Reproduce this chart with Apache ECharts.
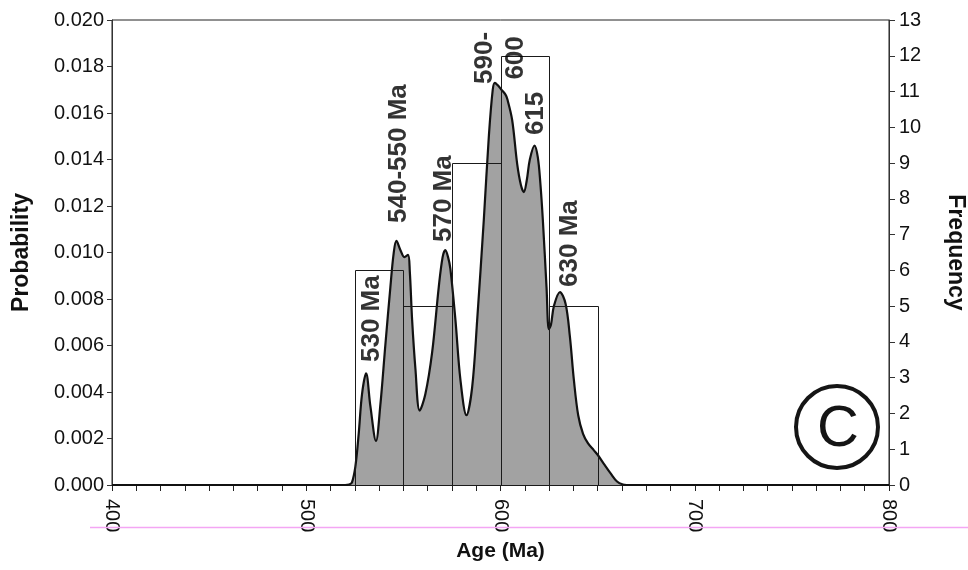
<!DOCTYPE html>
<html>
<head>
<meta charset="utf-8">
<title>Age (Ma)</title>
<script src="https://cdn.jsdelivr.net/npm/echarts@6/dist/echarts.min.js"></script>
<style>
  html, body { margin: 0; padding: 0; background: #ffffff; }
  #chart { width: 968px; height: 570px; }
</style>
</head>
<body>
<div id="chart"></div>
<script>
// Relative probability curve (age in Ma, probability)
const curveAges = [400, 520, 522, 523.5, 525.3, 527, 528.7, 530.8, 533, 535.9,
  538.1, 540.7, 543.3, 545, 546.4, 548.5, 550.5, 552.4, 553.3, 554.5, 556.2, 558.4,
  561.3, 564.8, 568.2, 570.2, 571.6, 573, 574.2, 576.8, 579.4, 582.5,
  585.4, 588, 591.4, 594, 596, 597.1, 598.5, 600.5, 602.5, 603.5, 606, 608.6,
  610.5, 612, 613.5, 615.1, 617.5, 619.2, 620.5, 621.8, 623.7, 624.9,
  626, 627.5, 630.6, 633.5, 635.7, 637.8, 640, 642.5, 645, 648, 650,
  653.3, 656.7, 660, 663, 665, 800];
const curveProb = [0, 0, 0.00002, 0.0001, 0.0008, 0.0022, 0.0039, 0.0048, 0.0034, 0.0019,
  0.0034, 0.0060, 0.0085, 0.00996, 0.0105, 0.0101, 0.0098, 0.0099, 0.0092, 0.0071, 0.0050, 0.0032,
  0.0039, 0.0057, 0.0085, 0.0098, 0.0101, 0.0098, 0.0093, 0.0071, 0.0045, 0.0030,
  0.0042, 0.0071, 0.0114, 0.0150, 0.0170, 0.0173, 0.0172, 0.0170, 0.0168, 0.0166, 0.0157, 0.0138,
  0.0129, 0.0126, 0.0131, 0.0140, 0.0146, 0.0141, 0.0130, 0.0114, 0.0085, 0.0067,
  0.0069, 0.0077, 0.0083, 0.0078, 0.0064, 0.0045, 0.0030, 0.0022, 0.0018, 0.0015, 0.0013,
  0.0009, 0.0005, 0.00015, 0.00002, 0, 0];

// Histogram of ages, 25 Ma bins (right axis: frequency)
const binStarts = [525, 550, 575, 600, 625];
const binWidth = 25;
const binFreq = [6, 5, 9, 12, 5];

// Peak annotations: text and anchor position (age, probability)
const peakText = ['530 Ma', '540-550 Ma', '570 Ma', '590-\n600', '615', '630 Ma'];
const peakAge = [533.9, 547.9, 570.6, 599.7, 618.0, 635.6];
const peakProb = [0.00529, 0.01127, 0.01045, 0.01837, 0.01505, 0.00852];

// Axis ticks
const probTicks = [0, 0.002, 0.004, 0.006, 0.008, 0.010, 0.012, 0.014, 0.016, 0.018, 0.020];
const freqTicks = [0, 1, 2, 3, 4, 5, 6, 7, 8, 9, 10, 11, 12, 13];
const ageTicks = [400, 500, 600, 700, 800];

const FONT = '"Liberation Sans", Arial, Helvetica, sans-serif';

const curveData = curveAges.map((a, i) => [a, curveProb[i]]);
const binData = binStarts.map((s, i) => [s, s + binWidth, binFreq[i]]);
const peakData = peakText.map((t, i) => ({
  value: [peakAge[i], peakProb[i]],
  name: t,
  label: t.indexOf('\n') >= 0 ? { align: 'center', verticalAlign: 'middle', lineHeight: 31 } : {}
}));

const chart = echarts.init(document.getElementById('chart'), null, { renderer: 'canvas' });

chart.setOption({
  animation: false,
  backgroundColor: '#ffffff',
  grid: {
    left: 112, right: 79, top: 20, bottom: 85,
    outerBoundsMode: 'none',
    containLabel: false,
    show: true, borderColor: '#222', borderWidth: 1, backgroundColor: 'transparent'
  },
  xAxis: {
    type: 'value',
    min: ageTicks[0], max: ageTicks[ageTicks.length - 1], interval: 100,
    name: 'Age (Ma)', nameLocation: 'middle', nameGap: 52,
    nameTextStyle: { fontFamily: FONT, fontSize: 21, fontWeight: 'bold', color: '#111' },
    axisLine: { show: true, lineStyle: { color: '#222', width: 1 } },
    axisTick: { show: true, length: 6, lineStyle: { color: '#222' } },
    minorTick: { show: true, splitNumber: 8, length: 6, lineStyle: { color: '#222' } },
    splitLine: { show: false },
    axisLabel: {
      rotate: -90, margin: 14, fontFamily: FONT, fontSize: 20, color: '#111',
      showMinLabel: true, showMaxLabel: true
    }
  },
  yAxis: [{
    type: 'value', position: 'left',
    min: probTicks[0], max: probTicks[probTicks.length - 1], interval: 0.002,
    name: 'Probability', nameLocation: 'middle', nameGap: 79, nameRotate: 90,
    nameTextStyle: { fontFamily: FONT, fontSize: 23, fontWeight: 'bold', color: '#111' },
    axisLine: { show: true, lineStyle: { color: '#333', width: 1 } },
    axisTick: { show: true, length: 5, lineStyle: { color: '#333' } },
    splitLine: { show: false },
    axisLabel: {
      margin: 8, fontFamily: FONT, fontSize: 20, color: '#111',
      formatter: v => v.toFixed(3)
    }
  }, {
    type: 'value', position: 'right',
    min: freqTicks[0], max: freqTicks[freqTicks.length - 1], interval: 1,
    name: 'Frequency', nameLocation: 'middle', nameGap: 55, nameRotate: -90,
    nameTextStyle: { fontFamily: FONT, fontSize: 23, fontWeight: 'bold', color: '#111' },
    axisLine: { show: true, lineStyle: { color: '#333', width: 1 } },
    axisTick: { show: true, length: 6, lineStyle: { color: '#333' } },
    splitLine: { show: false },
    axisLabel: { margin: 10, fontFamily: FONT, fontSize: 20, color: '#111' }
  }],
  series: [{
    name: 'Probability', type: 'line',
    xAxisIndex: 0, yAxisIndex: 0,
    data: curveData,
    smooth: 0.35,
    symbol: 'none',
    lineStyle: { color: '#111', width: 2.2 },
    areaStyle: { color: '#a2a2a2', opacity: 1 },
    z: 2
  }, {
    name: 'Frequency', type: 'custom',
    xAxisIndex: 0, yAxisIndex: 1,
    data: binData,
    encode: { x: [0, 1], y: 2 },
    renderItem: function (params, api) {
      const topLeft = api.coord([api.value(0), api.value(2)]);
      const bottomRight = api.coord([api.value(1), 0]);
      return {
        type: 'rect',
        shape: {
          x: Math.round(topLeft[0]) + 0.5,
          y: Math.round(topLeft[1]) + 0.5,
          width: Math.round(bottomRight[0]) - Math.round(topLeft[0]),
          height: Math.round(bottomRight[1]) - Math.round(topLeft[1])
        },
        style: { fill: 'none', stroke: '#1a1a1a', lineWidth: 1 }
      };
    },
    z: 3
  }, {
    name: 'Peaks', type: 'scatter',
    xAxisIndex: 0, yAxisIndex: 0,
    data: peakData,
    symbolSize: 0,
    silent: true,
    label: {
      show: true,
      position: [0, 0],
      rotate: 90,
      align: 'left',
      verticalAlign: 'middle',
      formatter: p => p.name,
      fontFamily: FONT, fontSize: 26, fontWeight: 'bold', color: '#000',
      textBorderWidth: 0
    },
    z: 4
  }],
  graphic: [{
    type: 'circle',
    shape: { cx: 837, cy: 427, r: 41 },
    style: { fill: 'none', stroke: '#151515', lineWidth: 4 },
    z: 10
  }, {
    type: 'text',
    x: 838, y: 430,
    style: {
      text: 'C', fill: '#151515', fontFamily: FONT, fontSize: 58,
      align: 'center', verticalAlign: 'middle'
    },
    z: 10
  }, {
    type: 'line',
    shape: { x1: 90, y1: 527.5, x2: 968, y2: 527.5 },
    style: { stroke: '#f4a6f4', lineWidth: 1.5 },
    z: 10
  }]
});
</script>
</body>
</html>
